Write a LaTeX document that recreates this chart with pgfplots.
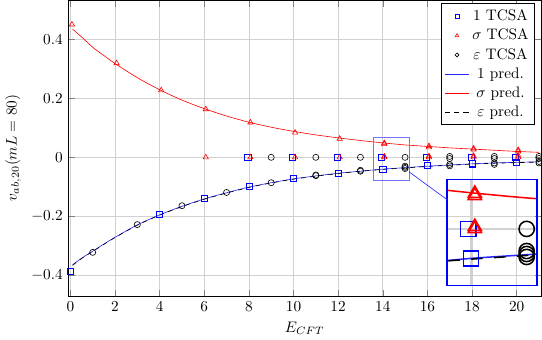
\documentclass[border=0pt]{standalone}
\usepackage{pgfplots}
\pgfplotsset{compat=1.18}
\usetikzlibrary{spy}
\pgfplotsset{shortleg/.style={legend image code/.code={\draw[mark repeat=2,mark phase=2,##1] plot coordinates {(0cm,0cm) (0.275cm,0cm) (0.55cm,0cm)};}}}
\begin{document}
\begin{tikzpicture}[spy using outlines={rectangle, magnification=2.5, width=59pt, height=69.5pt}]
\begin{axis}[
  scale only axis, width=310pt, height=194pt,
  xmin=-0.1, xmax=21.1, ymin=-0.471, ymax=0.532,
  xtick={0,2,...,20}, ytick={-0.4,-0.2,0,0.2,0.4},
  grid=major, grid style={black!18},
  xlabel={$E_{CFT}$}, ylabel={$v_{ab,20}(mL=80)$},
  legend style={at={(rel axis cs:0.987,0.99)}, anchor=north east, inner xsep=2pt},
  legend image post style={mark size=1.3pt},
]
\addplot[only marks, color=blue, mark=square, mark options={draw=blue}, shortleg] coordinates {
(0,-0.386) (4,-0.194) (6,-0.139) (8,-0.099) (10,-0.072) (12,-0.053) (14,-0.040)
(16,-0.028) (16,-0.026) (18,-0.022) (18,-0.020) (20,-0.018) (20,-0.016)
(7.95,0) (9.95,0) (11.95,0) (13.95,0) (15.95,0) (17.95,0) (19.95,0)
};
\addlegendentry{1 TCSA}
\addplot[only marks, color=red, mark=triangle, mark options={draw=red}, shortleg] coordinates {
(0.07,0.450) (2.07,0.319) (4.07,0.227) (6.07,0.163) (8.07,0.118) (10.07,0.084)
(12.07,0.063) (14.07,0.048) (14.07,0.045) (16.07,0.038) (16.07,0.034)
(18.07,0.030) (18.07,0.026) (20.07,0.025) (20.07,0.020)
(6.07,0) (8.07,0) (10.07,0) (12.07,0) (14.07,0) (14.07,0.003) (16.07,0) (16.07,0.004)
(18.07,0) (18.07,0.005) (20.07,0) (20.07,0.006)
};
\addlegendentry{$\sigma$ TCSA}
\addplot[only marks, color=black, mark=o, shortleg] coordinates {
(1,-0.322) (3,-0.228) (5,-0.164) (7,-0.119) (9,-0.086) (11,-0.062) (11,-0.060)
(13,-0.047) (13,-0.044) (15,-0.038) (15,-0.034) (15,-0.030) (17,-0.029) (17,-0.024)
(19,-0.024) (19,-0.019) (21,-0.019) (21,-0.014)
(9,0) (11,0) (13,0) (15,0) (17,0.003) (17,-0.004) (19,0.003) (19,-0.004) (21,0.003) (21,-0.004)
};
\addlegendentry{$\varepsilon$ TCSA}
\addplot[blue!85, smooth, no marks, shortleg] coordinates {
(0.1,-0.364) (0.5,-0.342) (1,-0.318) (1.5,-0.294) (2,-0.271) (3,-0.229) (4,-0.195)
(5,-0.166) (6,-0.141) (7,-0.120) (8,-0.101) (9,-0.086) (10,-0.073) (11,-0.063)
(12,-0.054) (13,-0.047) (14,-0.040) (15,-0.035) (16,-0.030) (17,-0.026) (18,-0.022)
(19,-0.019) (20,-0.017) (21,-0.015)
};
\addlegendentry{1 pred.}
\addplot[red, smooth, no marks, shortleg] coordinates {
(0.1,0.434) (0.5,0.408) (1,0.373) (1.5,0.345) (2,0.318) (3,0.270) (4,0.229) (5,0.194)
(6,0.165) (7,0.140) (8,0.119) (9,0.102) (10,0.088) (11,0.076) (12,0.066) (13,0.057)
(14,0.049) (15,0.042) (16,0.037) (17,0.032) (18,0.028) (19,0.024) (20,0.020) (21,0.017)
};
\addlegendentry{$\sigma$ pred.}
\addplot[black, dashed, smooth, no marks, shortleg] coordinates {
(0.1,-0.366) (0.5,-0.343) (1,-0.319) (1.5,-0.295) (2,-0.272) (3,-0.230) (4,-0.196)
(5,-0.167) (6,-0.142) (7,-0.121) (8,-0.102) (9,-0.087) (10,-0.074) (11,-0.064)
(12,-0.055) (13,-0.047) (14,-0.041) (15,-0.036) (16,-0.031) (17,-0.027) (18,-0.023)
(19,-0.020) (20,-0.018) (21,-0.016)
};
\addlegendentry{$\varepsilon$ pred.}
\coordinate (spypoint) at (axis cs:14.38,-0.005);
\coordinate (glass) at (axis cs:18.9,-0.255);
\end{axis}
\spy[blue!55,
     every spy on node/.style={draw=blue!55, line width=0.5pt},
     every spy in node/.style={draw=blue, line width=1pt},
     spy connection path={\draw[blue!80, line width=0.45pt] (tikzspyonnode) -- (tikzspyinnode);}]
  on (spypoint) in node at (glass);
\end{tikzpicture}
\end{document}
